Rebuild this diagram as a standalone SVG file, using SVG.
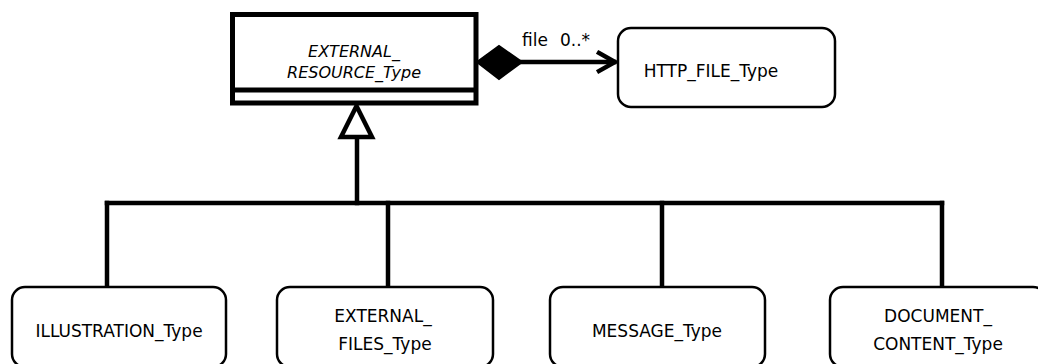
<svg xmlns="http://www.w3.org/2000/svg" width="1038" height="364" viewBox="0 0 1038 364">
  <style>
    .node { fill: #ffffff; stroke: #000000; stroke-width: 2.5; }
    .cls { fill: #ffffff; stroke: #000000; stroke-width: 5; }
    .conn { fill: none; stroke: #000000; stroke-width: 4.5; stroke-linecap: square; }
    .lbl { font-family: "DejaVu Sans", "Liberation Sans", sans-serif; font-size: 17px; fill: #000000; text-anchor: middle; }
    .ital { font-style: italic; font-size: 16px; }
    .edge { font-family: "DejaVu Sans", "Liberation Sans", sans-serif; font-size: 17px; fill: #000000; }
  </style>
  <rect width="1038" height="364" fill="#ffffff"/>

  <g id="connectors">
    <!-- composition -->
    <polygon points="477,62 499,46 522,62 499,79" fill="#000000" stroke="#000000" stroke-width="2"/>
    <line class="conn" x1="522" y1="62" x2="614" y2="62"/>
    <polyline class="conn" points="599,53 615,62 599,71" style="stroke-linejoin:miter"/>
    <text class="edge" x="522" y="46">file</text>
    <text class="edge" x="560" y="46">0..*</text>
    <!-- generalization -->
    <line class="conn" x1="357" y1="138" x2="357" y2="203"/>
    <line class="conn" x1="107" y1="203" x2="942" y2="203"/>
    <line class="conn" x1="107" y1="203" x2="107" y2="287"/>
    <line class="conn" x1="388" y1="203" x2="388" y2="287"/>
    <line class="conn" x1="662" y1="203" x2="662" y2="287"/>
    <line class="conn" x1="942" y1="203" x2="942" y2="287"/>
    <polygon points="356.5,106 341,137 372,137" fill="#ffffff" stroke="#000000" stroke-width="4.5" stroke-linejoin="miter"/>
  </g>

  <g id="EXTERNAL_RESOURCE_Type">
    <rect class="cls" x="232.5" y="14.5" width="243.5" height="88.5"/>
    <line x1="232.5" y1="90" x2="476" y2="90" stroke="#000000" stroke-width="5"/>
    <text class="lbl ital" x="354" y="57">EXTERNAL_</text>
    <text class="lbl ital" x="354" y="78">RESOURCE_Type</text>
  </g>

  <g id="HTTP_FILE_Type">
    <rect class="node" x="618" y="28" width="217" height="79" rx="13" ry="13"/>
    <text class="lbl" x="711" y="77">HTTP_FILE_Type</text>
  </g>

  <g id="ILLUSTRATION_Type">
    <rect class="node" x="12" y="287" width="214" height="80" rx="13" ry="13"/>
    <text class="lbl" x="119" y="337">ILLUSTRATION_Type</text>
  </g>

  <g id="EXTERNAL_FILES_Type">
    <rect class="node" x="277" y="287" width="216" height="80" rx="13" ry="13"/>
    <text class="lbl" x="383" y="322">EXTERNAL_</text>
    <text class="lbl" x="385" y="350">FILES_Type</text>
  </g>

  <g id="MESSAGE_Type">
    <rect class="node" x="550" y="287" width="215" height="80" rx="13" ry="13"/>
    <text class="lbl" x="657" y="337">MESSAGE_Type</text>
  </g>

  <g id="DOCUMENT_CONTENT_Type">
    <rect class="node" x="830" y="287" width="216" height="80" rx="13" ry="13"/>
    <text class="lbl" x="938" y="322">DOCUMENT_</text>
    <text class="lbl" x="938" y="350">CONTENT_Type</text>
  </g>
</svg>
